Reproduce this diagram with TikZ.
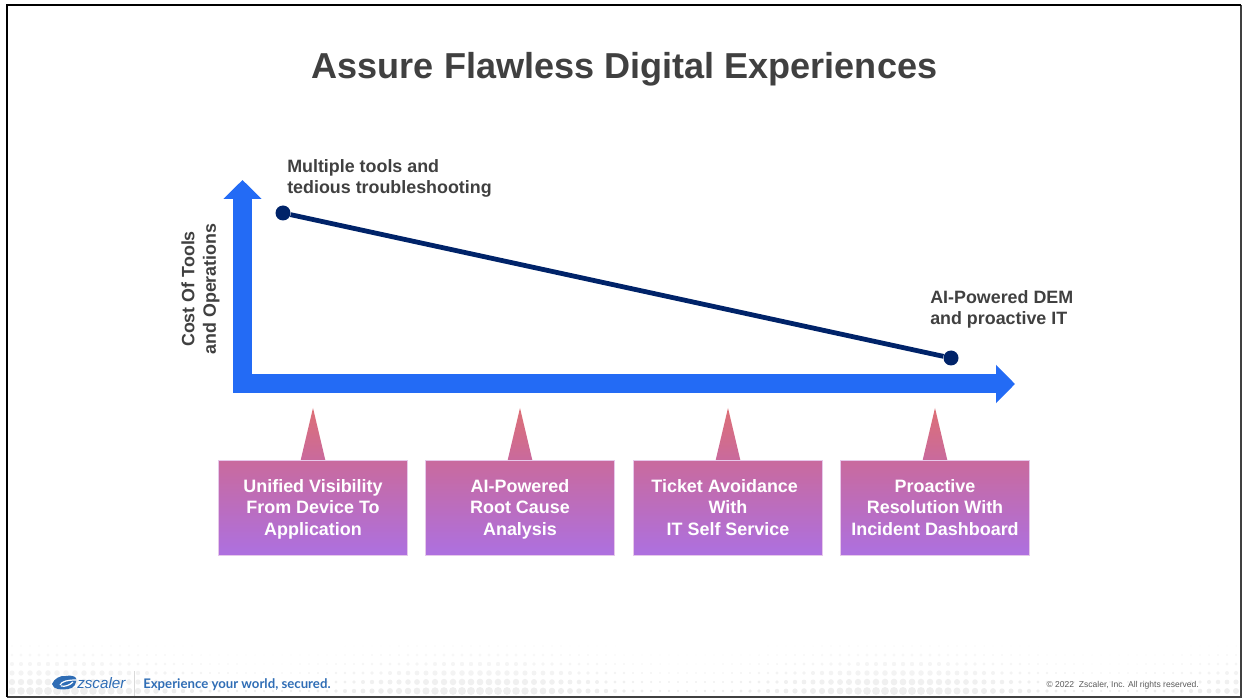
\documentclass[tikz,border=0pt]{standalone}
\usepackage{fontspec}
\setmainfont{Liberation Sans}
\newfontfamily\mottofont{Lato}
\usetikzlibrary{arrows.meta}
\usetikzlibrary{calc}
\definecolor{title-gray}{HTML}{404040}
\definecolor{axis-blue}{HTML}{236BF5}
\definecolor{line-navy}{HTML}{002369}
\definecolor{tag-top}{HTML}{C96A9D}
\definecolor{tag-bottom}{HTML}{AD70E0}
\definecolor{tip-top}{HTML}{DD6F75}
\definecolor{tag-edge}{HTML}{E6C8EA}
\definecolor{brand-blue}{HTML}{2F6DB5}
\tikzstyle{axisarrow}=[axis-blue,line width=14.25pt,-{Triangle[length=14.25pt,width=28pt]}]
\tikzstyle{slope}=[line-navy,line width=3.6pt]
\tikzstyle{enddot}=[circle,fill=line-navy,inner sep=0pt,minimum size=11.25pt]
\tikzstyle{darklabel}=[title-gray,font=\fontsize{13.4}{16.3}\bfseries\selectfont,align=left,inner sep=0pt]
\tikzstyle{tagbox}=[rectangle,draw=tag-edge,line width=0.4pt,minimum width=142pt,minimum height=70.9pt,inner sep=0pt,align=center,text=white,
  top color=tag-top,bottom color=tag-bottom,text depth=-2pt,font=\fontsize{13.45}{16.1}\bfseries\selectfont]
\newcommand{\newtag}[3]{
	\node[tagbox] (#1) at (#2,507.5) {#3};
	\shade[top color=tip-top,bottom color=tag-top] ($(#1.north)+(-12.3,0)$) -- (#2,408) -- ($(#1.north)+(12.3,0)$) -- cycle;
}
\begin{document}
\begin{tikzpicture}[x=0.75pt,y=-0.75pt]
	\useasboundingbox (0,0) rectangle (1242,698);
	% dots along the foot of the slide
	\foreach \row in {0,1,...,5} {
	\foreach \col in {0,1,...,136} {
	\pgfmathsetmacro{\dotsize}{(0.9+\row*0.55)*(0.72+0.38*cos(\col*7.7-40))}
	\pgfmathsetmacro{\dotshade}{2.5+\row*0.8}
	\fill[black!\dotshade] (12+\col*9,646+\row*9) circle (\dotsize);
	}
	}
	\fill[white] (0,0) rectangle (6,698);
	\fill[white] (0,697.5) rectangle (1242,698);
	\draw[black!75,line width=0.9pt] (7,697) -- (1241,697) -- (1241,5);
	\draw[black,line width=1.7pt] (7,697) -- (7,5) -- (1241,5);
	\node[title-gray,font=\fontsize{27.05}{30}\bfseries\selectfont,inner sep=0pt] (title) at (624.5,69) {Assure Flawless Digital Experiences};
	% axes
	\coordinate (ybase) at (242.5,393);
	\coordinate (ytip) at (242.5,180);
	\coordinate (xbase) at (233,384);
	\coordinate (xtip) at (1015,384);
	\draw[axisarrow] (ybase) -- (ytip);
	\draw[axisarrow] (xbase) -- (xtip);
	\node[darklabel,rotate=90,align=center,anchor=center] (ylabel) at (200.5,289) {Cost Of Tools\\and Operations};
	% falling cost line
	\node[enddot] (high) at (283,213) {};
	\node[enddot] (low) at (951,358) {};
	\draw[slope] (high) -- (low);
	\node[darklabel,anchor=north west] (highlabel) at (287,159) {Multiple tools and\\tedious troubleshooting};
	\node[darklabel,anchor=north west] (lowlabel) at (930,290) {AI-Powered DEM\\and proactive IT};
	\newtag{visibility}{313}{Unified Visibility\\From Device To\\Application}
	\newtag{rootcause}{520}{AI-Powered\\Root Cause\\Analysis}
	\newtag{ticket}{728}{Ticket Avoidance\hspace*{5pt}\\With\hspace*{5pt}\\IT Self Service}
	\newtag{incident}{935}{Proactive\\Resolution With\\Incident Dashboard}
	% footer
	\fill[brand-blue] (52,684) .. controls (54,679) and (60,675) .. (66,676) .. controls (70,675) and (75,676) .. (76,678) .. controls (77,683) and (74,689) .. (68,689) .. controls (62,690) and (53,690) .. (52,684) -- cycle;
	\draw[white,line width=0.9pt] (60,685) .. controls (62,681) and (68,680) .. (76,680);
	\draw[white,line width=0.9pt] (61,686) .. controls (65,687) and (70,685) .. (73,682);
	\node[brand-blue,font=\fontsize{11.4}{12}\itshape\selectfont,inner sep=0pt,anchor=west] (brand) at (77,683) {zscaler};
	\draw[black!15] (134.5,671) -- (134.5,696);
	\node[brand-blue,font=\mottofont\fontsize{9.9}{12}\bfseries\selectfont,inner sep=0pt,anchor=west] (motto) at (143,685) {Experience your world, secured.};
	\node[black!65,font=\fontsize{6.4}{7}\selectfont,inner sep=0pt,anchor=east] (rights) at (1199,685.5) {© 2022\ \ Zscaler, Inc. All rights reserved.};
\end{tikzpicture}
\end{document}
